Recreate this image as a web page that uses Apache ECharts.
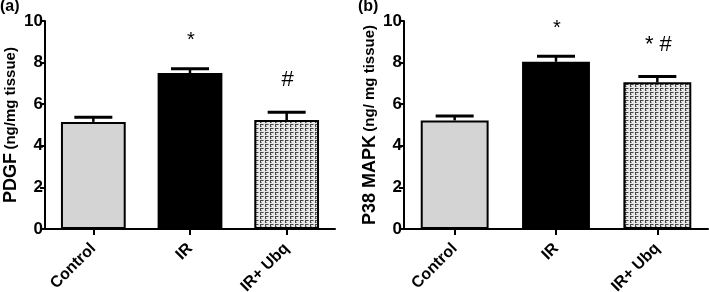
<!DOCTYPE html>
<html>
<head>
<meta charset="utf-8">
<script src="https://cdn.jsdelivr.net/npm/echarts@6/dist/echarts.min.js"></script>
<style>
  html, body { margin: 0; padding: 0; background: #fff; }
  #chart { width: 709px; height: 292px; }
</style>
</head>
<body>
<div id="chart"></div>
<script>
// data
var categories = ["Control", "IR", "IR+ Ubq"];
var pdgfMean = [5.15, 7.5, 5.24];
var pdgfSem = [0.22, 0.21, 0.37];
var pdgfMarks = ["", "*", "#"];
var p38Mean = [5.22, 8.04, 7.05];
var p38Sem = [0.21, 0.26, 0.28];
var p38Marks = ["", "*", "* #"];
var yTicks = [0, 2, 4, 6, 8, 10];

var FONT = "Liberation Sans, Arial, sans-serif";

// dotted texture for the IR+Ubq bar
function makePattern() {
  var c = document.createElement("canvas");
  c.width = 5;
  c.height = 4;
  var ctx = c.getContext("2d");
  ctx.fillStyle = "#e8e8e8";
  ctx.fillRect(0, 0, 5, 4);
  ctx.fillStyle = "#444";
  ctx.fillRect(0, 0, 3, 1);
  ctx.fillRect(0, 1, 1, 2);
  ctx.fillStyle = "#959595";
  ctx.fillRect(3, 0, 1, 1);
  ctx.fillRect(1, 2, 1, 1);
  return c;
}
var pattern = { image: makePattern(), repeat: "repeat" };
var barColors = ["#d4d4d4", "#000000", pattern];

function barData(means) {
  return means.map(function (v, i) {
    return { value: v, itemStyle: { color: barColors[i] } };
  });
}

function errData(means, sems, marks) {
  return means.map(function (v, i) {
    return [i, v, v + sems[i], marks[i]];
  });
}

function renderErr(params, api) {
  var base = api.coord([api.value(0), api.value(1)]);
  var top = api.coord([api.value(0), api.value(2)]);
  var half = 19;
  var children = [
    {
      type: "line",
      shape: { x1: base[0], y1: base[1], x2: top[0], y2: top[1] },
      style: { stroke: "#000", lineWidth: 2.5 },
    },
    {
      type: "line",
      shape: { x1: top[0] - half, y1: top[1], x2: top[0] + half, y2: top[1] },
      style: { stroke: "#000", lineWidth: 3 },
    },
  ];
  var mark = api.value(3);
  if (mark) {
    children.push({
      type: "text",
      style: {
        text: mark,
        x: top[0] + 1,
        y: top[1] - (mark === "*" ? 28 : 32),
        align: "center",
        verticalAlign: "middle",
        fontFamily: FONT,
        fontSize: mark === "*" ? 20 : 22,
        fill: "#000",
      },
    });
  }
  return { type: "group", children: children };
}

function yAxisCfg(gridIndex, title, unit) {
  return {
    gridIndex: gridIndex,
    type: "value",
    min: 0,
    max: 10,
    interval: 2,
    name: "{b|" + title + "} {s|" + unit + "}",
    nameLocation: "middle",
    nameGap: 24,
    nameTextStyle: {
      rich: {
        b: { fontFamily: FONT, fontSize: 18, fontWeight: "bold", color: "#000" },
        s: { fontFamily: FONT, fontSize: 15, fontWeight: "bold", color: "#000" },
      },
    },
    splitLine: { show: false },
    axisLine: { show: true, lineStyle: { color: "#000", width: 2 } },
    axisTick: { show: true, length: 5, lineStyle: { color: "#000", width: 2 } },
    axisLabel: {
      fontFamily: FONT,
      fontSize: 17,
      fontWeight: "bold",
      color: "#000",
      margin: 2,
      formatter: function (v) {
        return yTicks.indexOf(v) >= 0 ? String(v) : "";
      },
    },
  };
}

function xAxisCfg(gridIndex) {
  return {
    gridIndex: gridIndex,
    type: "category",
    data: categories,
    axisLine: { show: true, lineStyle: { color: "#000", width: 2 } },
    axisTick: { show: true, alignWithLabel: true, length: 6, lineStyle: { color: "#000", width: 2 } },
    axisLabel: {
      interval: 0,
      rotate: 45,
      margin: 17,
      fontFamily: FONT,
      fontSize: 16,
      fontWeight: "bold",
      color: "#000",
    },
  };
}

var myChart = echarts.init(document.getElementById("chart"), null, { renderer: "canvas" });

var option = {
  animation: false,
  backgroundColor: "#fff",
  grid: [
    { left: 45, right: 374, top: 21, bottom: 63, containLabel: false, outerBoundsMode: "none" },
    { left: 404, right: 1, top: 21, bottom: 63, containLabel: false, outerBoundsMode: "none" },
  ],
  xAxis: [xAxisCfg(0), xAxisCfg(1)],
  yAxis: [
    yAxisCfg(0, "PDGF", "(ng/mg tissue)"),
    yAxisCfg(1, "P38 MAPK", "(ng/ mg tissue)"),
  ],
  graphic: [
    { type: "text", left: 0, top: -1, style: { text: "(a)", fontFamily: FONT, fontSize: 16, fontWeight: "bold", fill: "#000" } },
    { type: "text", left: 358, top: -1, style: { text: "(b)", fontFamily: FONT, fontSize: 16, fontWeight: "bold", fill: "#000" } },
  ],
  series: [
    {
      name: "PDGF",
      type: "bar",
      xAxisIndex: 0,
      yAxisIndex: 0,
      barCategoryGap: "33%",
      itemStyle: { borderColor: "#000", borderWidth: 2 },
      data: barData(pdgfMean),
      z: 2,
    },
    {
      name: "PDGF error",
      type: "custom",
      xAxisIndex: 0,
      yAxisIndex: 0,
      renderItem: renderErr,
      encode: { x: 0, y: [1, 2] },
      data: errData(pdgfMean, pdgfSem, pdgfMarks),
      z: 3,
    },
    {
      name: "P38 MAPK",
      type: "bar",
      xAxisIndex: 1,
      yAxisIndex: 1,
      barCategoryGap: "33%",
      itemStyle: { borderColor: "#000", borderWidth: 2 },
      data: barData(p38Mean),
      z: 2,
    },
    {
      name: "P38 error",
      type: "custom",
      xAxisIndex: 1,
      yAxisIndex: 1,
      renderItem: renderErr,
      encode: { x: 0, y: [1, 2] },
      data: errData(p38Mean, p38Sem, p38Marks),
      z: 3,
    },
  ],
};

myChart.setOption(option);
</script>
</body>
</html>
